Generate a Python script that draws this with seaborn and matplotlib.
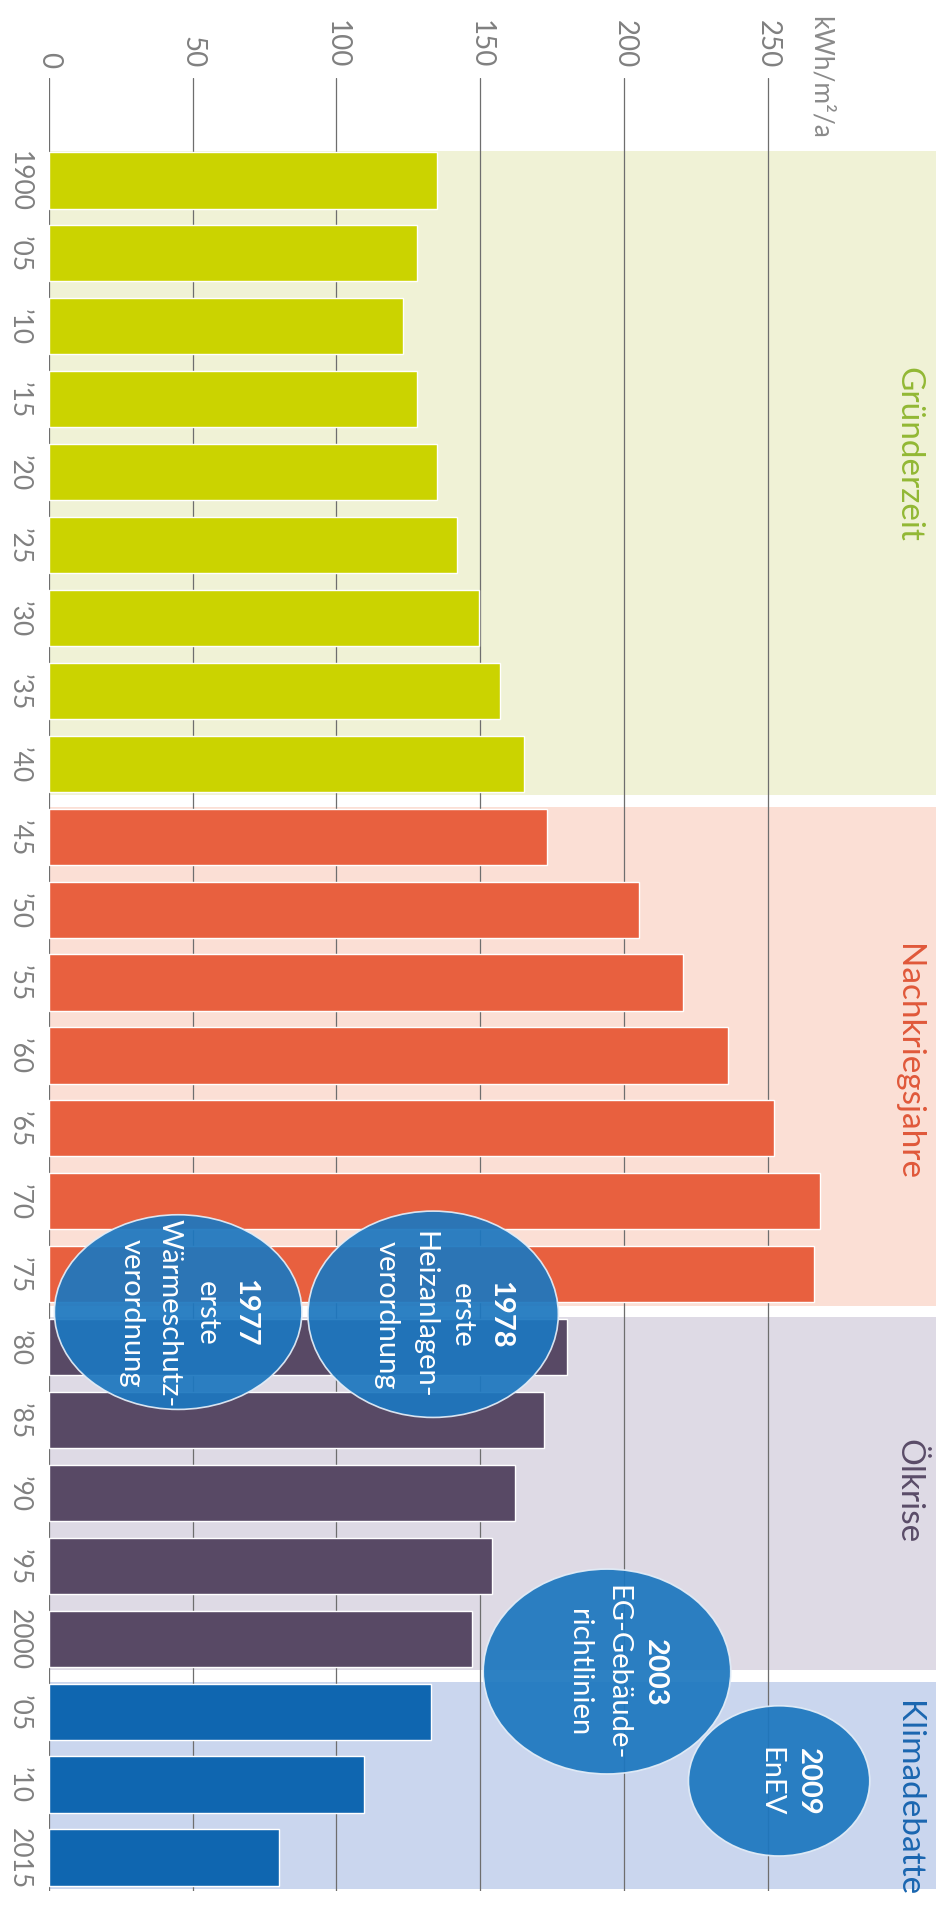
# Heizenergiebedarf nach Baujahr (gedrehte Darstellung)

import numpy as np
import pandas as pd
import matplotlib
matplotlib.use('Agg')
import matplotlib.pyplot as plt
import matplotlib.font_manager as fm
from matplotlib.patches import Ellipse
import seaborn as sns

# Daten
years = [1900, 1905, 1910, 1915, 1920, 1925, 1930, 1935, 1940,
         1945, 1950, 1955, 1960, 1965, 1970, 1975,
         1980, 1985, 1990, 1995, 2000,
         2005, 2010, 2015]
year_labels = ['1900', '’05', '’10', '’15', '’20', '’25', '’30', '’35', '’40',
               '’45', '’50', '’55', '’60', '’65', '’70', '’75',
               '’80', '’85', '’90', '’95', '2000',
               '’05', '’10', '2015']
values = [135, 128, 123, 128, 135, 142, 149.5, 157, 165,
          173, 205, 220.5, 236, 252, 268, 266,
          180, 172, 162, 154, 147,
          133, 109.5, 80]
eras = (['Gründerzeit'] * 9 + ['Nachkriegsjahre'] * 7
        + ['Ölkrise'] * 5 + ['Klimadebatte'] * 3)
era_names = ['Gründerzeit', 'Nachkriegsjahre', 'Ölkrise', 'Klimadebatte']
x_ticks = [0, 50, 100, 150, 200, 250]

bar_colors = {'Gründerzeit': '#cbd300', 'Nachkriegsjahre': '#e8603f',
              'Ölkrise': '#584965', 'Klimadebatte': '#0f66b0'}
band_colors = {'Gründerzeit': '#f0f2d6', 'Nachkriegsjahre': '#fbdfd5',
               'Ölkrise': '#dedae5', 'Klimadebatte': '#cad6ee'}
label_colors = {'Gründerzeit': '#92b834', 'Nachkriegsjahre': '#e0583a',
                'Ölkrise': '#5a4c68', 'Klimadebatte': '#1a66b0'}
# Lage der Epochen-Beschriftung (Kategorie-Index)
label_pos = {'Gründerzeit': 3.75, 'Nachkriegsjahre': 12.07,
             'Ölkrise': 17.96, 'Klimadebatte': 22.18}

# Verordnungen: x, y (Index), Breite, Höhe, Zeilen
notes = [
    (45.0, 15.52, 86, 2.67, ['1977', 'erste', 'Wärmeschutz-', 'verordnung']),
    (133.6, 15.55, 87, 2.83, ['1978', 'erste', 'Heizanlagen-', 'verordnung']),
    (194.0, 20.45, 86, 2.81, ['2003', 'EG-Gebäude-', 'richtlinien']),
    (253.8, 21.95, 63, 2.06, ['2009', 'EnEV']),
]

df = pd.DataFrame({'year': years, 'value': values, 'era': eras})


def has_font(name):
    try:
        fm.findfont(fm.FontProperties(family=name), fallback_to_default=False)
        return True
    except Exception:
        return False


sns.set_theme(style='white')
main_font = 'Lato' if has_font('Lato') else 'DejaVu Sans'
plt.rcParams['font.family'] = [main_font, 'DejaVu Sans']

fig = plt.figure(figsize=(9.48, 19.06), dpi=100)
ax = fig.add_axes([0.0513, 0.00735, 0.936, 0.9512])

# Hintergrundbaender
for name in era_names:
    idx = [i for i, e in enumerate(eras) if e == name]
    ax.axhspan(idx[0] - 0.41, idx[-1] + 0.43, color=band_colors[name], zorder=0.1, lw=0)

sns.barplot(data=df, x='value', y='year', hue='era', palette=bar_colors,
            orient='h', dodge=False, width=0.77, saturation=1, legend=False,
            ax=ax, zorder=2)

ax.set_xlim(0, 308.3)
ax.set_ylim(23.46, -1.406)
ax.set_xticks(x_ticks)
ax.grid(axis='x', color='#6e6e6e', lw=0.9, zorder=0.5)
ax.grid(axis='y', visible=False)
ax.set_axisbelow(True)
for s in ax.spines.values():
    s.set_visible(False)

ax.xaxis.tick_top()
ax.set_xticklabels([str(t) for t in x_ticks], rotation=-90, fontsize=20,
                   color='#808080')
ax.tick_params(axis='x', length=0, pad=8)
ax.set_yticks(range(len(years)))
ax.set_yticklabels(year_labels, rotation=-90, fontsize=19, color='#808080',
                   va='center')
ax.tick_params(axis='y', length=0, pad=12)
ax.set_xlabel('')
ax.set_ylabel('')

fig.text(820 / 948, 1 - 16 / 1906, 'kWh/m²/a', rotation=-90, ha='center', va='top',
         fontsize=19, color='#8a8a8a')

# Epochen-Beschriftung
for name in era_names:
    ax.text(298.6, label_pos[name], name, rotation=-90, ha='center', va='center',
            fontsize=24, color=label_colors[name], clip_on=False)

# Ellipsen mit Verordnungen
step = 13.2
for cx, cy, w, h, lines in notes:
    ax.add_patch(Ellipse((cx, cy), w, h, facecolor='#1d77bf', edgecolor='#e4eef8',
                         lw=1.2, alpha=0.93, zorder=3))
    n = len(lines)
    for k, line in enumerate(lines):
        lx = cx + 3.5 + (n - 1) / 2 * step - k * step
        ax.text(lx, cy, line, rotation=-90, ha='center', va='center',
                fontsize=21, color='white', zorder=4,
                fontweight='bold' if k == 0 else 'normal')

fig.savefig('out.png', dpi=100)
